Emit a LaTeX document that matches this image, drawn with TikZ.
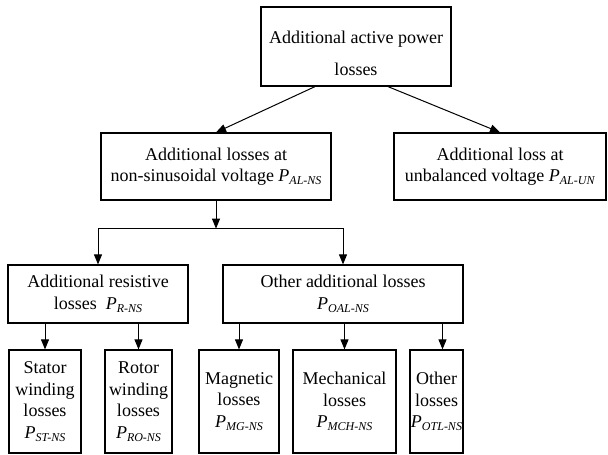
\documentclass[tikz,border=0pt]{standalone}
\usepackage{fontspec}
\setmainfont{Liberation Serif}
\usetikzlibrary{positioning, arrows.meta}

\newcommand{\Pl}[1]{\textit{P}\raisebox{-0.35ex}{\fontsize{12}{12}\selectfont\textit{#1}}}

\begin{document}
\begin{tikzpicture}[
    x=1pt, y=1pt,
    on grid,
    >={Triangle[length=10pt, width=8pt]},
    every node/.style={font=\fontsize{18}{21.5}\selectfont},
    box/.style={draw, line width=1.2pt, align=center, inner sep=0pt},
    link/.style={->, line width=1pt}
]
\useasboundingbox (0,0) rectangle (608,-455);

   % Top level
   \node[box, minimum width=190pt, minimum height=79pt] (apl) at (356,-46.5) {\rule{0pt}{26pt}Additional active power\\[10pt]losses};

   % Second level
   \node[box, minimum width=230pt, minimum height=67pt] (ns) [below left=120pt and 140pt of apl] {Additional losses at\\non-sinusoidal voltage \Pl{AL-NS}};
   \node[box, minimum width=212pt, minimum height=67pt] (un) [below right=120pt and 144pt of apl] {Additional loss at\\unbalanced voltage \Pl{AL-UN}};

   % Third level
   \node[box, minimum width=180pt, minimum height=58pt] (res) [below left=127.5pt and 118pt of ns] {Additional resistive\\losses\ \ \Pl{R-NS}};
   \node[box, minimum width=240pt, minimum height=58pt] (oal) [below right=127.5pt and 127pt of ns] {Other additional losses\\\Pl{OAL-NS}};

   % Bottom level
   \node[box, minimum width=72pt, minimum height=103pt] (st) [below left=107.5pt and 53pt of res] {Stator\\winding\\losses\\\Pl{ST-NS}};
   \node[box, minimum width=67pt, minimum height=103pt] (ro) [right=93.5pt of st] {Rotor\\winding\\losses\\\Pl{RO-NS}};
   \node[box, minimum width=80pt, minimum height=103pt] (mg) [right=100.5pt of ro] {Magnetic\\losses\\\Pl{MG-NS}};
   \node[box, minimum width=103pt, minimum height=103pt] (mch) [right=105.5pt of mg] {Mechanical\\losses\\\Pl{MCH-NS}};
   \node[box, minimum width=53pt, minimum height=103pt] (otl) [right=92pt of mch] {Other\\losses\\\Pl{OTL-NS}};

   % Arrows
   \draw[link] ([xshift=-41pt]apl.south) -- (ns.north);
   \draw[link] ([xshift=32pt]apl.south) -- (un.north);

   \coordinate[below=28pt of ns.south] (split);
   \draw[link] (ns) -- (split);
   \draw[link] (split) -| (res);
   \draw[link] (split) -| (oal);

   \draw[link] (st.north |- res.south) -- (st);
   \draw[link] (ro.north |- res.south) -- (ro);
   \draw[link] (mg.north |- oal.south) -- (mg);
   \draw[link] (mch.north |- oal.south) -- (mch);
   \coordinate (otlin) at ([xshift=6pt]otl.north);
   \draw[link] (otlin |- oal.south) -- (otlin);
\end{tikzpicture}
\end{document}
